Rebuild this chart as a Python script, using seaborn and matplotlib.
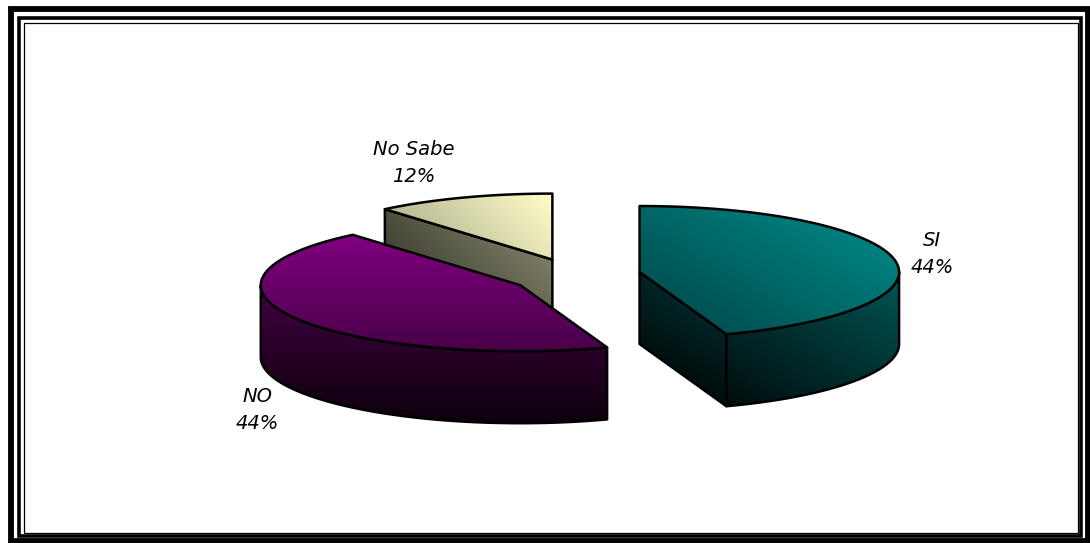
import numpy as np
import matplotlib
matplotlib.use("Agg")
import matplotlib.pyplot as plt
from matplotlib.patches import Polygon, Rectangle
import seaborn as sns

# Survey answers
labels = ["SI", "NO", "No Sabe"]
values = [44, 44, 12]

# Shading ramps for every slice, dark end to light end
top_ramps = [("#003e3e", "#008080"), ("#260026", "#800080"), ("#9b9b7c", "#ffffcc")]
side_ramps = [("#000c0c", "#005a5a"), ("#0c000c", "#550055"), ("#35352b", "#96967a")]
shade_dirs = [(0.5, -0.87), (0.0, -1.0), (0.7, -0.7)]
label_spots = [(932, 254), (257, 410), (414, 163)]

WIDTH, HEIGHT = 1090, 543
CENTER = (574.6, 275.5)
RX, RY, DEPTH = 259.5, 66.0, 72.0
EXPLODE = 66.4
SKEW = -3.0  # angular foreshortening of the tilted disc, in degrees

sns.set_theme(style="white")
plt.rcParams["font.family"] = ["DejaVu Sans"]

fig = plt.figure(figsize=(WIDTH / 100, HEIGHT / 100), dpi=100, facecolor="white")
ax = fig.add_axes([0, 0, 1, 1])
ax.set_axis_off()


def warp(deg):
    return deg + SKEW * np.sin(np.radians(2 * deg))


def rim(cx, cy, deg):
    rad = np.radians(warp(np.asarray(deg, dtype=float)))
    return np.column_stack([cx + RX * np.sin(rad), cy - RY * np.cos(rad)])


grid_x, grid_y = np.meshgrid(np.arange(WIDTH) + 0.5, np.arange(HEIGHT) + 0.5)


def shaded_face(points, ramp, field, z):
    cmap = sns.blend_palette(ramp, as_cmap=True)
    image = ax.imshow(field, cmap=cmap, vmin=0, vmax=1, extent=(0, WIDTH, HEIGHT, 0),
                      aspect="auto", interpolation="bilinear", zorder=z)
    outline = Polygon(points, closed=True, facecolor="none", edgecolor="black",
                      linewidth=1.8, joinstyle="round", zorder=z + 0.5)
    ax.add_patch(outline)
    image.set_clip_path(outline)


# Frame lines, as nested rectangles from the outside in
for x0, y0, x1, y1, lw in [(10.5, 8.5, 1087.5, 541, 4.2), (18.5, 17.5, 1080.5, 536, 2.6),
                           (23.5, 22.5, 1077.5, 532.5, 0.9)]:
    ax.add_patch(Rectangle((x0, y0), x1 - x0, y1 - y0, facecolor="none",
                           edgecolor="black", linewidth=lw, zorder=1))

fractions = np.array(values) / sum(values)
ends = np.cumsum(fractions) * 360
starts = ends - fractions * 360

# Slices are painted back to front so nearer ones overlap the others
for z, i in zip((2, 10, 20), (2, 1, 0)):
    a0, a1 = starts[i], ends[i]
    mid = np.radians(warp((a0 + a1) / 2))
    cx = CENTER[0] + EXPLODE * np.sin(mid)
    cy = CENTER[1] - EXPLODE * RY / RX * np.cos(mid)

    arc = rim(cx, cy, np.linspace(a0, a1, 160))
    apex = np.array([[cx, cy]])
    top = np.vstack([apex, arc])

    box = np.vstack([top, top + [0, DEPTH]])
    dx, dy = shade_dirs[i]
    proj = (grid_x * dx + grid_y * dy)
    span = box[:, 0] * dx + box[:, 1] * dy
    field = np.clip((proj - span.min()) / (span.max() - span.min()), 0, 1)

    # Radial walls that face the viewer
    for angle, visible in ((a0, np.sin(np.radians(a0)) < -1e-6),
                           (a1, np.sin(np.radians(a1)) > 1e-6)):
        if visible:
            edge = rim(cx, cy, [angle])
            wall = np.vstack([apex, edge, edge + [0, DEPTH], apex + [0, DEPTH]])
            shaded_face(wall, side_ramps[i], field, z)

    # Curved outer wall, front half of the rim only
    lo, hi = max(a0, 90), min(a1, 270)
    if hi > lo:
        front = rim(cx, cy, np.linspace(lo, hi, 120))
        shaded_face(np.vstack([front, (front + [0, DEPTH])[::-1]]), side_ramps[i], field, z + 1)

    shaded_face(top, top_ramps[i], field, z + 3)

for name, value, (tx, ty) in zip(labels, values, label_spots):
    ax.text(tx, ty, f"{name}\n{value}%", ha="center", va="center", style="italic",
            fontsize=14, linespacing=1.5, color="black", zorder=40)

ax.set_xlim(0, WIDTH)
ax.set_ylim(HEIGHT, 0)
fig.savefig("out.png", dpi=100, facecolor="white")
